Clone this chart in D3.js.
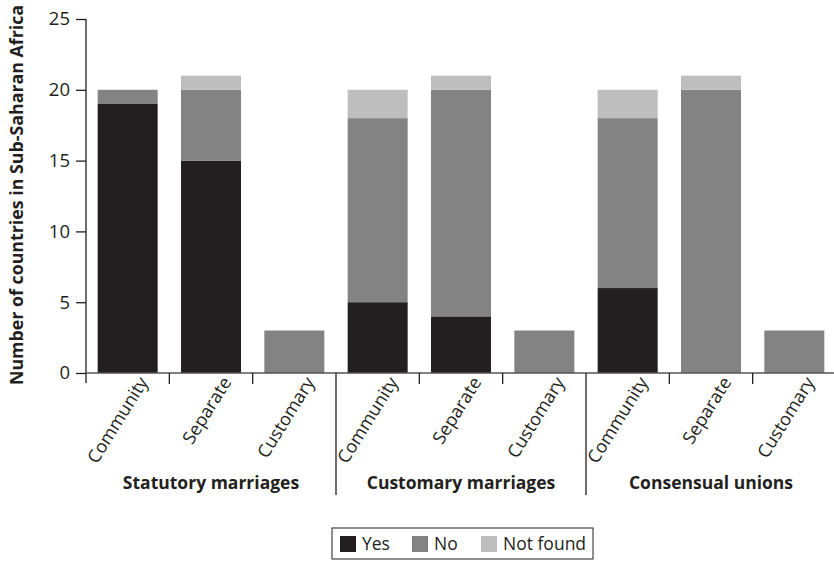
<!DOCTYPE html>
<html><head><meta charset="utf-8">
<script src="https://cdn.jsdelivr.net/npm/d3@7"></script>
<style>body{margin:0;background:#fff}svg{display:block}text{font-family:"Open Sans",sans-serif;fill:#231f20}</style>
</head><body><svg id="c" width="834" height="561"></svg>
<script>
const groups = ["Statutory marriages","Customary marriages","Consensual unions"];
const subcats = ["Community","Separate","Customary"];
const series = ["Yes","No","Not found"];
const yesVals = [19,15,0, 5,4,0, 6,0,0];
const noVals  = [1,5,3, 13,16,3, 12,20,3];
const nfVals  = [0,1,0, 2,1,0, 2,1,0];
const yTicks = [0,5,10,15,20,25];
const colors = ["#231f20","#838383","#bebebe"];

const svg = d3.select("#c");
const x0 = 86, x1 = 836, yTop = 19, yBot = 373;
const keys = [];
groups.forEach((g,gi)=>subcats.forEach((s,si)=>keys.push(gi*3+si)));
const rows = keys.map(i=>({i, g:groups[Math.floor(i/3)], s:subcats[i%3], "Yes":yesVals[i], "No":noVals[i], "Not found":nfVals[i]}));
const x = d3.scaleBand().domain(keys).range([x0,x1]).paddingInner(0.28).paddingOuter(0.14);
const y = d3.scaleLinear().domain([0,25]).range([yBot,yTop]);
const stack = d3.stack().keys(series)(rows);

svg.append("g").selectAll("g").data(stack).join("g").attr("fill",(d,i)=>colors[i])
  .selectAll("rect").data(d=>d).join("rect")
  .attr("x",d=>x(d.data.i)).attr("width",x.bandwidth())
  .attr("y",d=>y(d[1])).attr("height",d=>y(d[0])-y(d[1]));

// y axis
const ya = svg.append("g").attr("transform",`translate(${x0},0)`)
  .call(d3.axisLeft(y).tickValues(yTicks).tickSize(10).tickPadding(6));
ya.select(".domain").remove();
ya.selectAll("line").attr("stroke","#231f20").attr("stroke-width",1.3);
ya.selectAll("text").style("font-size","18.5px").attr("fill","#231f20");
svg.append("line").attr("x1",x0).attr("x2",x0).attr("y1",yTop).attr("y2",yBot+10).attr("stroke","#231f20").attr("stroke-width",1.3);
// x axis line
svg.append("line").attr("x1",x0).attr("x2",x1).attr("y1",yBot).attr("y2",yBot).attr("stroke","#555").attr("stroke-width",1.5);

// boundary ticks
const step = x.step();
d3.range(1,9).forEach(k=>{
  const bx = x0 + k*step;
  const long = k%3===0;
  svg.append("line").attr("x1",bx).attr("x2",bx).attr("y1",yBot).attr("y2",long?495:384)
    .attr("stroke","#231f20").attr("stroke-width",1.3);
});

// category labels
rows.forEach(r=>{
  const cx = x(r.i)+x.bandwidth()/2 + 21;
  svg.append("text").attr("transform",`translate(${cx},382) rotate(-58)`)
    .attr("text-anchor","end").style("font-size","18px").text(r.s);
});
// group labels
groups.forEach((g,gi)=>{
  const cx = x0 + (gi*3+1.5)*step;
  svg.append("text").attr("x",cx).attr("y",489).attr("text-anchor","middle")
    .style("font-size","17.5px").style("font-weight","700").text(g);
});

// y title
svg.append("text").attr("transform",`translate(23,195) rotate(-90)`).attr("text-anchor","middle")
  .style("font-size","17.8px").style("font-weight","700").text("Number of countries in Sub-Saharan Africa");

// legend
const lg = svg.append("g");
lg.append("rect").attr("x",332).attr("y",528).attr("width",261).attr("height",31).attr("fill","none").attr("stroke","#231f20").attr("stroke-width",1);
const lx = [340,412,481];
series.forEach((s,i)=>{
  lg.append("rect").attr("x",lx[i]).attr("y",536).attr("width",16).attr("height",16).attr("fill",colors[i]);
  lg.append("text").attr("x",lx[i]+22).attr("y",550).style("font-size","17.5px").text(s);
});
</script></body></html>
